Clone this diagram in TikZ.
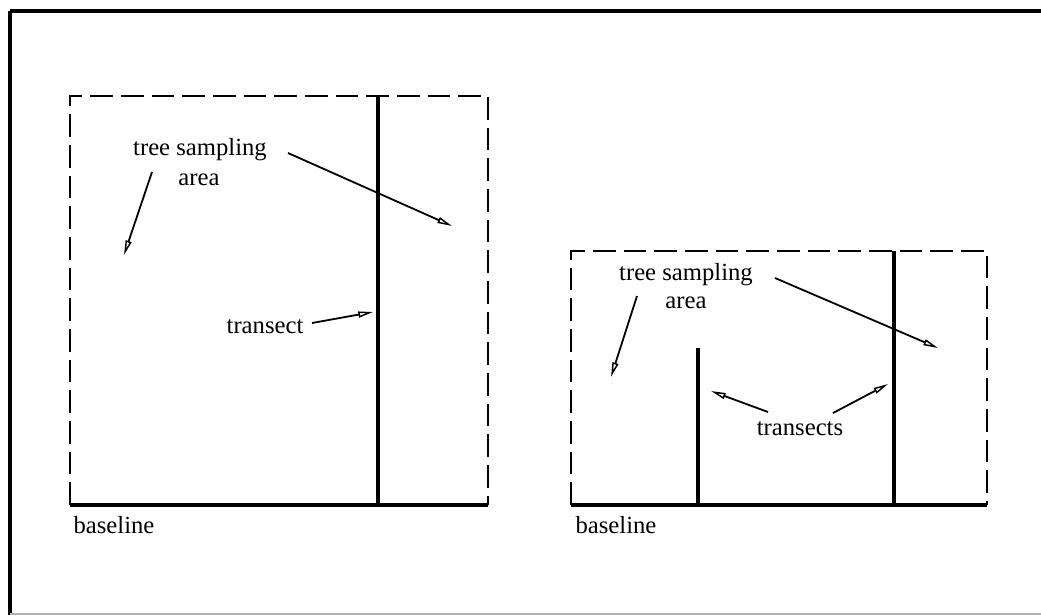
\documentclass[tikz,border=0pt]{standalone}
\usepackage{fontspec}
\setmainfont{Liberation Serif}
\usetikzlibrary{arrows.meta}
\begin{document}
\begin{tikzpicture}[x=0.75pt,y=-0.75pt,
  label/.style={inner sep=0pt,anchor=base,font=\fontsize{18.5}{22}\selectfont},
  area/.style={line width=1.5pt,dash pattern=on 17pt off 6pt},
  baseln/.style={line width=2.6pt},
  transectline/.style={line width=2.6pt},
  pointer/.style={line width=1.35pt,-{Triangle[open,length=11pt,width=4.5pt,line width=1.1pt]}},
  frameline/.style={line width=3pt}]
\useasboundingbox (0,0) rectangle (1041,615);
\fill[white] (0,0) rectangle (1041,615);
% outer frame
\draw[frameline] (10,11) -- (1041,11);
\draw[frameline] (10,11) -- (10,615);
\draw[line width=1pt,black!30] (10,614) -- (1041,614);

% ---- first plot: one transect ----
\draw[area] (70,505) -- (70,96) -- (488,96) -- (488,505);
\draw[baseln] (70,505) -- (488,505);
\coordinate (t1top) at (378,96);
\coordinate (t1bot) at (378,505);
\draw[transectline] (t1top) -- (t1bot);

\node[label] (tsa1) at (200,155) {tree sampling};
\node[label] (ar1) at (199,185) {area};
\node[label] (tr1) at (265,333) {transect};
\node[label] (bl1) at (114,533) {baseline};

\coordinate (a1s) at (152,172);
\coordinate (a1e) at (124,255);
\coordinate (a2s) at (288,153);
\coordinate (a2e) at (452,226);
\coordinate (a3s) at (312,323);
\coordinate (a3e) at (373,312);
\draw[pointer] (a1s) -- (a1e);
\draw[pointer] (a2s) -- (a2e);
\draw[pointer] (a3s) -- (a3e);

% ---- second plot: two transects ----
\draw[area] (571,505) -- (571,251) -- (987,251) -- (987,505);
\draw[baseln] (571,505) -- (987,505);
\coordinate (t2top) at (698,348);
\coordinate (t2bot) at (698,505);
\coordinate (t3top) at (894,251);
\coordinate (t3bot) at (894,505);
\draw[transectline] (t2top) -- (t2bot);
\draw[transectline] (t3top) -- (t3bot);

\node[label] (tsa2) at (686,280) {tree sampling};
\node[label] (ar2) at (686,308) {area};
\node[label] (tr2) at (800,435) {transects};
\node[label] (bl2) at (616,533) {baseline};

\coordinate (b1s) at (637,296);
\coordinate (b1e) at (611,377);
\coordinate (b2s) at (775,278);
\coordinate (b2e) at (938,348);
\coordinate (b3s) at (768,412);
\coordinate (b3e) at (711,391);
\coordinate (b4s) at (833,413);
\coordinate (b4e) at (888,384);
\draw[pointer] (b1s) -- (b1e);
\draw[pointer] (b2s) -- (b2e);
\draw[pointer] (b3s) -- (b3e);
\draw[pointer] (b4s) -- (b4e);
\end{tikzpicture}
\end{document}
